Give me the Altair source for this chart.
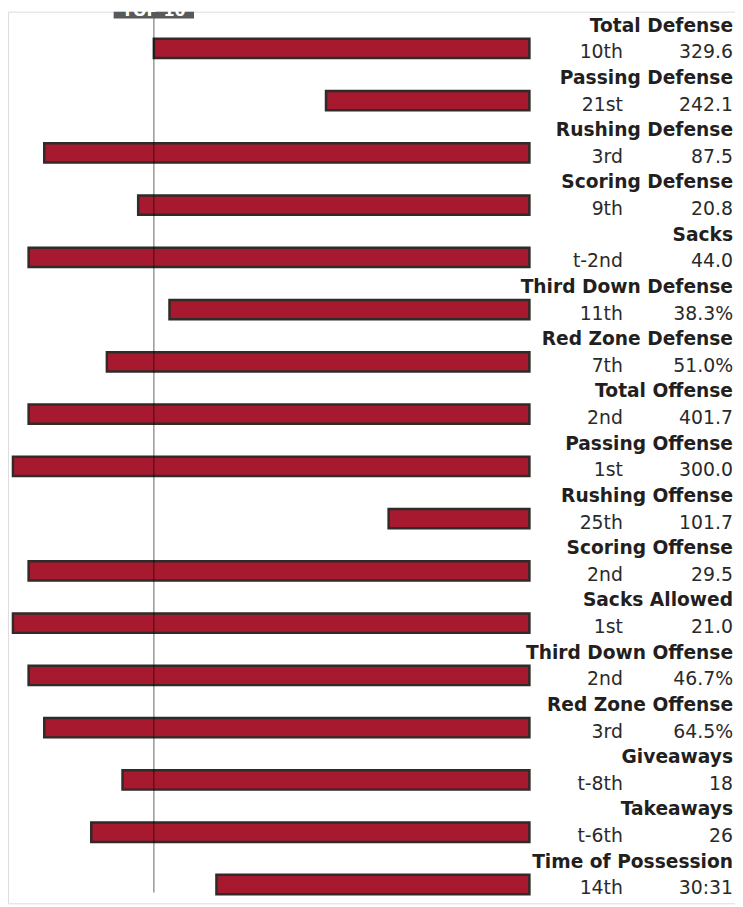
import altair as alt
import pandas as pd

stats = ["Total Defense", "Passing Defense", "Rushing Defense", "Scoring Defense",
         "Sacks", "Third Down Defense", "Red Zone Defense", "Total Offense",
         "Passing Offense", "Rushing Offense", "Scoring Offense", "Sacks Allowed",
         "Third Down Offense", "Red Zone Offense", "Giveaways", "Takeaways",
         "Time of Possession"]
ranks = [10, 21, 3, 9, 2, 11, 7, 2, 1, 25, 2, 1, 2, 3, 8, 6, 14]
rank_labels = ["10th", "21st", "3rd", "9th", "t-2nd", "11th", "7th", "2nd", "1st",
               "25th", "2nd", "1st", "2nd", "3rd", "t-8th", "t-6th", "14th"]
values = ["329.6", "242.1", "87.5", "20.8", "44.0", "38.3%", "51.0%", "401.7",
          "300.0", "101.7", "29.5", "21.0", "46.7%", "64.5%", "18", "26", "30:31"]
top_cut = [10]
top_label = ["TOP 10"]

W = 733
H = 899
df = pd.DataFrame({"stat": stats, "rank": ranks, "rank_label": rank_labels,
                   "value": values, "row": list(range(len(stats)))})
thr = pd.DataFrame({"cut": top_cut, "label": top_label})

xscale = alt.Scale(domain=[1, 1 + W / 16], range=[0, W], nice=False, zero=False)
yscale = alt.Scale(domain=[0, len(stats) - 1], range=[32, 885], nice=False, zero=False)

x_rank = alt.X("rank:Q", scale=xscale, axis=None, stack=None)
y_row = alt.Y("row:Q", scale=yscale, axis=None)

bars = alt.Chart(df).mark_bar(
    orient="horizontal", size=19.5, color="#A6192E", stroke="#2f2b28", strokeWidth=2.5
).encode(x=x_rank, x2=alt.value(525.7), y=y_row)

rule = alt.Chart(thr).mark_rule(color="#000000", opacity=0.38, strokeWidth=1.6).encode(
    x=alt.X("cut:Q", scale=xscale, axis=None), y=alt.value(0), y2=alt.value(888)
)

box = alt.Chart(thr).mark_bar(orient="vertical", size=81, color="#58595b").encode(
    x=alt.X("cut:Q", scale=xscale, axis=None), y=alt.value(0), y2=alt.value(7)
)
box_text = alt.Chart(thr).mark_text(
    font="DejaVu Sans", fontWeight="bold", fontSize=16, color="white",
    align="center", baseline="alphabetic"
).encode(x=alt.X("cut:Q", scale=xscale, axis=None), y=alt.value(4), text="label:N")

names = alt.Chart(df).mark_text(
    font="DejaVu Sans", fontWeight="bold", fontSize=18.8, color="#231f20",
    align="right", baseline="alphabetic", dy=-17
).encode(x=alt.value(731), y=y_row, text="stat:N")

rank_txt = alt.Chart(df).mark_text(
    font="DejaVu Sans", fontSize=19, color="#2a2a2a",
    align="right", baseline="alphabetic", dy=10
).encode(x=alt.value(620), y=y_row, text="rank_label:N")

val_txt = alt.Chart(df).mark_text(
    font="DejaVu Sans", fontSize=19, color="#2a2a2a",
    align="right", baseline="alphabetic", dy=10
).encode(x=alt.value(731), y=y_row, text="value:N")

chart = alt.layer(bars, rule, box, box_text, names, rank_txt, val_txt).properties(
    width=W, height=H, padding=0, autosize=alt.AutoSizeParams(type="none")
).configure_view(stroke=None, strokeOpacity=0, strokeWidth=0).configure(background="white")

chart.save("out.html", embed_options={"renderer": "svg", "actions": False})
